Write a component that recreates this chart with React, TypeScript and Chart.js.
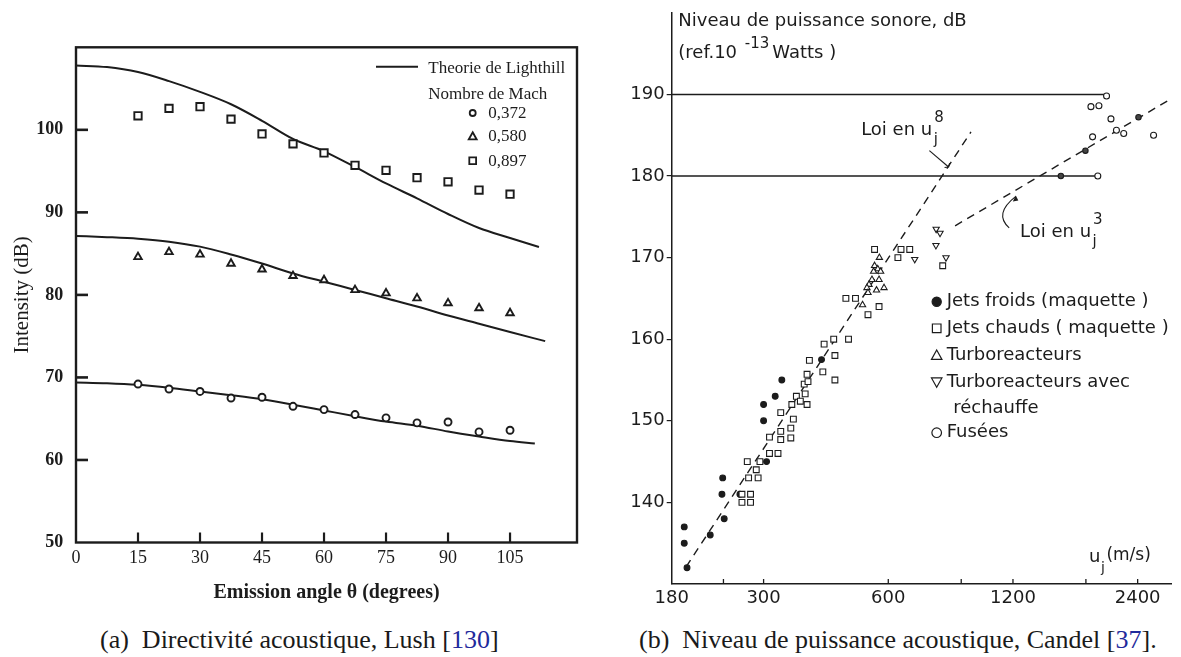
import React, { useEffect, useRef } from 'react';
import { Chart, registerables } from 'chart.js';

Chart.register(...registerables);

const INK = '#1c1c1c';
const SERIF = '"Liberation Serif", "Times New Roman", serif';
const SANS = '"DejaVu Sans", "Liberation Sans", sans-serif';

// ---------------- Panel (a): Lush directivity ----------------
const ANGLES = [15, 22.5, 30, 37.5, 45, 52.5, 60, 67.5, 75, 82.5, 90, 97.5, 105];
const MACH_0372 = [69.2, 68.6, 68.3, 67.5, 67.6, 66.5, 66.1, 65.5, 65.1, 64.5, 64.6, 63.4, 63.6];
const MACH_0580 = [84.6, 85.2, 84.9, 83.8, 83.1, 82.3, 81.8, 80.6, 80.2, 79.6, 79.0, 78.4, 77.8];
const MACH_0897 = [101.7, 102.6, 102.8, 101.3, 99.5, 98.3, 97.2, 95.7, 95.1, 94.2, 93.7, 92.7, 92.2];

const THEORY_ANGLES = [0, 7.5, 15, 22.5, 30, 37.5, 45, 52.5, 60, 67.5, 75, 82.5, 90, 97.5, 105];
const THEORY_END_ANGLES = [111, 113.5, 112];
const THEORY_0372 = [69.4, 69.3, 69.1, 68.75, 68.3, 67.85, 67.35, 66.7, 66.0, 65.3, 64.65, 64.15, 63.45, 62.85, 62.3, 62.0];
const THEORY_0580 = [87.15, 87.0, 86.8, 86.45, 85.85, 84.9, 83.8, 82.6, 81.6, 80.6, 79.6, 78.6, 77.5, 76.5, 75.5, 74.4];
const THEORY_0897 = [107.8, 107.6, 107.0, 105.9, 104.6, 103.1, 101.1, 98.9, 97.4, 95.5, 93.5, 91.7, 89.8, 88.1, 86.9, 85.8];

const X_TICKS_A = [0, 15, 30, 45, 60, 75, 90, 105];
const Y_TICKS_A = [50, 60, 70, 80, 90, 100];
const LEGEND_A_LINE = 'Theorie de Lighthill';
const LEGEND_A_TITLE = 'Nombre de Mach';
const LEGEND_A = ['0,372', '0,580', '0,897'];

// ---------------- Panel (b): Candel acoustic power ----------------
const JETS_FROIDS = [[193, 137], [193, 135], [196, 132], [223, 136], [239, 143], [238, 141], [241, 138], [263, 141], [305, 145], [300, 150], [300, 152], [320, 153], [332, 155], [414, 157.5]];
const JETS_CHAUDS = [[266, 140], [279, 140], [266, 141], [279, 141], [276, 143], [291, 143], [288, 144], [274, 145], [294, 145], [310, 146], [325, 146], [310, 148], [330, 147.7], [330, 148.7], [349, 147.9], [349, 149.1], [354, 150.2], [330, 151], [351, 152], [360, 153], [368, 152.4], [378, 153.3], [382, 152], [376, 154.5], [382, 155.7], [384, 154.8], [387, 157.4], [417, 156], [420, 159.4], [446, 158], [446, 155], [443, 160], [481, 160], [474, 165], [500, 165], [536, 163], [570, 164], [556, 171], [644, 171], [676, 171], [633, 170], [812, 169]];
const TURBO = [[571, 170], [556, 169], [566, 168.6], [553, 168.3], [575, 168.3], [548, 167.3], [570, 167.3], [539, 166.7], [562, 166], [586, 166.3], [533, 166.3], [536, 165.7], [520, 164.2]];
const TURBO_RECHAUFFE = [[783, 173.5], [800, 173], [782, 171.5], [827, 170], [695, 169.8]];
const FUSEES = [[2019, 189.8], [1851, 188.5], [1935, 188.6], [2069, 187], [1868, 184.8], [2133, 185.6], [2221, 185.2], [2622, 185], [1923, 180]];
const FUSEES_POINTEES = [[1566, 180], [1795, 183.1], [2411, 187.2]];
const LINE_190 = [[180, 190], [2019, 190]];
const LINE_180 = [[180, 180], [1923, 180]];
const LOI_U8 = [[195, 132.1], [950, 185.4]];
const LOI_U3 = [[870, 173.9], [2900, 189.5]];

const X_MIN_B = 180;
const X_MAX_B = 2900;
const X_TICKS_B = [180, 240, 300, 600, 900, 1200, 1800, 2400];
const X_LABELS_B = [180, 300, 600, 1200, 2400];
const Y_TICKS_B = [140, 150, 160, 170, 180, 190];
const TITLE_B = 'Niveau de puissance sonore, dB';
const LEGEND_B = ['Jets froids (maquette )', 'Jets chauds ( maquette )', 'Turboreacteurs', 'Turboreacteurs avec', 'réchauffe', 'Fusées'];
// annotation anchors (data coordinates)
const LOI8_LABEL = [516, 185.6];
const LOI8_POINTER = [[754, 183.1], [839, 181.1]];
const LOI3_LABEL = [1248, 173.1];
const LOI3_POINTER = [[1175, 173.65], [1125, 175.6], [1219, 177.5]];
const UJ_LABEL = [1831, 133.3];

const toXY = (pairs: number[][]) => pairs.map(([x, y]) => ({ x, y }));
const zipXY = (xs: number[], ys: number[]) => xs.map((x, i) => ({ x, y: ys[i] }));
const theory = (ys: number[], end: number) => [...THEORY_ANGLES, end].map((x, i) => ({ x, y: ys[i] }));

function strokeLine(ctx: CanvasRenderingContext2D, x1: number, y1: number, x2: number, y2: number) {
  ctx.beginPath();
  ctx.moveTo(x1, y1);
  ctx.lineTo(x2, y2);
  ctx.stroke();
}

function symbol(ctx: CanvasRenderingContext2D, kind: string, x: number, y: number, s: number, fill = '#fff') {
  ctx.beginPath();
  if (kind === 'circle') {
    ctx.arc(x, y, s, 0, Math.PI * 2);
  } else if (kind === 'rect') {
    ctx.rect(x - s, y - s, 2 * s, 2 * s);
  } else if (kind === 'tri') {
    ctx.moveTo(x, y - s);
    ctx.lineTo(x + s * 0.95, y + s * 0.7);
    ctx.lineTo(x - s * 0.95, y + s * 0.7);
    ctx.closePath();
  } else if (kind === 'trid') {
    ctx.moveTo(x, y + s);
    ctx.lineTo(x + s * 0.95, y - s * 0.7);
    ctx.lineTo(x - s * 0.95, y - s * 0.7);
    ctx.closePath();
  }
  ctx.fillStyle = fill;
  ctx.fill();
  ctx.stroke();
}

const leftDecor = {
  id: 'leftDecor',
  afterDraw(chart: any) {
    const { ctx, chartArea: ca, scales } = chart;
    const xs = scales.x;
    const ys = scales.y;
    ctx.save();
    ctx.strokeStyle = INK;
    ctx.lineWidth = 2.4;
    ctx.strokeRect(ca.left, ca.top, ca.right - ca.left, ca.bottom - ca.top);
    ctx.lineWidth = 2.6;
    Y_TICKS_A.filter((v) => v > 50).forEach((v) => {
      const py = ys.getPixelForValue(v);
      strokeLine(ctx, ca.left, py, ca.left + 12, py);
    });
    ctx.lineWidth = 2.2;
    X_TICKS_A.filter((v) => v > 0).forEach((v) => {
      const px = xs.getPixelForValue(v);
      strokeLine(ctx, px, ca.bottom, px, ca.bottom - 10);
    });
    // legend
    ctx.lineWidth = 2;
    strokeLine(ctx, ca.right - 201, ca.top + 19.4, ca.right - 159, ca.top + 19.4);
    ctx.fillStyle = INK;
    ctx.font = `17px ${SERIF}`;
    ctx.textBaseline = 'middle';
    ctx.textAlign = 'left';
    ctx.fillText(LEGEND_A_LINE, ca.right - 148.7, ca.top + 21);
    ctx.fillText(LEGEND_A_TITLE, ca.right - 148.7, ca.top + 47.7);
    const kinds = ['circle', 'tri', 'rect'];
    const sizes = [3, 4.2, 3.4];
    const rows = [65.7, 89.2, 113.4];
    kinds.forEach((k, i) => {
      ctx.lineWidth = 1.8;
      ctx.strokeStyle = INK;
      symbol(ctx, k, ca.right - 104.3, ca.top + rows[i], sizes[i]);
      ctx.fillStyle = INK;
      ctx.fillText(LEGEND_A[i], ca.right - 88.7, ca.top + rows[i] + 0.5);
    });
    ctx.restore();
  },
};

function drawLaw(ctx: CanvasRenderingContext2D, px: number, py: number, exp: string) {
  ctx.font = `18px ${SANS}`;
  ctx.textAlign = 'left';
  ctx.textBaseline = 'middle';
  ctx.fillText('Loi en u', px, py);
  const w = ctx.measureText('Loi en u').width;
  ctx.font = `15px ${SANS}`;
  ctx.fillText(exp, px + w + 2, py - 12);
  ctx.fillText('j', px + w + 1.5, py + 10);
}

const rightDecor = {
  id: 'rightDecor',
  afterDraw(chart: any) {
    const { ctx, chartArea: ca, scales } = chart;
    const xs = scales.x;
    const ys = scales.y;
    const P = (p: number[]) => [xs.getPixelForValue(p[0]), ys.getPixelForValue(p[1])];
    ctx.save();
    ctx.strokeStyle = INK;
    ctx.fillStyle = INK;
    ctx.lineWidth = 1.3;
    X_TICKS_B.filter((v) => v > X_MIN_B).forEach((v) => {
      const px = xs.getPixelForValue(v);
      strokeLine(ctx, px, ca.bottom, px, ca.bottom - 5);
    });
    // title
    ctx.font = `18px ${SANS}`;
    ctx.textBaseline = 'middle';
    ctx.textAlign = 'left';
    ctx.fillText(TITLE_B, ca.left + 6.6, 21.7);
    let tx = ca.left + 6.6;
    ctx.fillText('(ref.10 ', tx, 53.3);
    tx += ctx.measureText('(ref.10 ').width + 2;
    ctx.font = `15px ${SANS}`;
    ctx.fillText('-13', tx, 44);
    tx += ctx.measureText('-13').width + 3;
    ctx.font = `18px ${SANS}`;
    ctx.fillText('Watts )', tx, 53.3);

    // law labels
    const l8 = P(LOI8_LABEL);
    drawLaw(ctx, l8[0], l8[1], '8');
    const l3 = P(LOI3_LABEL);
    drawLaw(ctx, l3[0], l3[1], '3');
    // pointers
    ctx.lineWidth = 1.1;
    const a = P(LOI8_POINTER[0]);
    const b = P(LOI8_POINTER[1]);
    strokeLine(ctx, a[0], a[1], b[0], b[1]);
    strokeLine(ctx, b[0] - 4, b[1] + 0.5, b[0], b[1]);
    strokeLine(ctx, b[0], b[1], b[0] + 1, b[1] - 4);
    const c0 = P(LOI3_POINTER[0]);
    const c1 = P(LOI3_POINTER[1]);
    const c2 = P(LOI3_POINTER[2]);
    ctx.beginPath();
    ctx.moveTo(c0[0], c0[1]);
    ctx.quadraticCurveTo(c1[0] - 8, c1[1] + 2, c2[0], c2[1]);
    ctx.stroke();
    ctx.beginPath();
    ctx.moveTo(c2[0], c2[1] - 1);
    ctx.lineTo(c2[0] - 3, c2[1] + 5);
    ctx.lineTo(c2[0] + 2.5, c2[1] + 4);
    ctx.closePath();
    ctx.fill();

    // u_j (m/s)
    const uj = P(UJ_LABEL);
    ctx.font = `18px ${SANS}`;
    ctx.fillText('u', uj[0], uj[1]);
    const wu = ctx.measureText('u').width;
    ctx.font = `14px ${SANS}`;
    ctx.fillText('j', uj[0] + wu + 0.5, uj[1] + 11);
    ctx.font = `17px ${SANS}`;
    ctx.fillText('(m/s)', uj[0] + wu + 6, uj[1] - 1);

    // legend
    const lx = ca.left + 265;
    const rows = [301.7, 328.3, 355, 382.3, 408, 432.7];
    const kinds = ['dot', 'rect', 'tri', 'trid', '', 'circle'];
    ctx.font = `18px ${SANS}`;
    rows.forEach((ry, i) => {
      ctx.lineWidth = 1.2;
      ctx.strokeStyle = INK;
      const k = kinds[i];
      if (k === 'dot') symbol(ctx, 'circle', lx, ry, 4.6, INK);
      else if (k === 'rect') symbol(ctx, 'rect', lx, ry, 4.3);
      else if (k === 'tri') symbol(ctx, 'tri', lx, ry + 0.5, 5.5);
      else if (k === 'trid') symbol(ctx, 'trid', lx, ry - 0.5, 5.5);
      else if (k === 'circle') symbol(ctx, 'circle', lx, ry, 4.8);
      ctx.fillStyle = INK;
      ctx.fillText(LEGEND_B[i], lx + (k === '' ? 16.5 : 10), ry);
    });
    ctx.restore();
  },
};

function PanelA() {
  const ref = useRef<HTMLCanvasElement>(null);
  useEffect(() => {
    if (!ref.current) return;
    const lineDs = (ys: number[], end: number) => ({
      data: theory(ys, end),
      showLine: true,
      borderColor: INK,
      borderWidth: 2,
      pointRadius: 0,
      cubicInterpolationMode: 'monotone',
      order: 2,
    });
    const markDs = (ys: number[], style: string, r: number) => ({
      data: zipXY(ANGLES, ys),
      showLine: false,
      pointStyle: style,
      pointRadius: r,
      pointBorderWidth: 1.9,
      pointBorderColor: INK,
      pointBackgroundColor: '#fff',
      order: 1,
    });
    const chart = new Chart(ref.current, {
      type: 'scatter',
      data: {
        datasets: [
          lineDs(THEORY_0372, THEORY_END_ANGLES[0]),
          lineDs(THEORY_0580, THEORY_END_ANGLES[1]),
          lineDs(THEORY_0897, THEORY_END_ANGLES[2]),
          markDs(MACH_0372, 'circle', 3.5),
          markDs(MACH_0580, 'triangle', 4.3),
          markDs(MACH_0897, 'rect', 5.2),
        ] as any,
      },
      options: {
        animation: false,
        responsive: false,
        events: [],
        layout: { padding: { left: 0, right: 23, top: 47.3, bottom: 0 } },
        plugins: { legend: { display: false }, tooltip: { enabled: false } },
        scales: {
          x: {
            type: 'linear',
            min: 0,
            max: 121.2,
            afterBuildTicks: (s: any) => { s.ticks = X_TICKS_A.map((v) => ({ value: v })); },
            afterFit: (s: any) => { s.height = 72.5; },
            grid: { display: false, drawTicks: false },
            border: { display: false },
            ticks: { color: INK, padding: 4.7, font: { family: SERIF, size: 18 } },
            title: {
              display: true,
              text: 'Emission angle θ (degrees)',
              color: INK,
              font: { family: SERIF, size: 20, weight: 'bold' },
              padding: { top: 0, bottom: 10 },
            },
          },
          y: {
            type: 'linear',
            min: 50,
            max: 110,
            afterBuildTicks: (s: any) => { s.ticks = Y_TICKS_A.map((v) => ({ value: v })); },
            afterFit: (s: any) => { s.width = 76; },
            grid: { display: false, drawTicks: false },
            border: { display: false },
            ticks: { color: INK, padding: 12.7, font: { family: SERIF, size: 18, weight: 'bold' } },
            title: {
              display: true,
              text: 'Intensity (dB)',
              color: INK,
              font: { family: SERIF, size: 21 },
              padding: { top: 9.4, bottom: 0 },
            },
          },
        },
      } as any,
      plugins: [leftDecor],
    });
    return () => chart.destroy();
  }, []);
  return <canvas ref={ref} width={600} height={615} style={{ position: 'absolute', left: 0, top: 0, width: 600, height: 615 }} />;
}

function PanelB() {
  const ref = useRef<HTMLCanvasElement>(null);
  useEffect(() => {
    if (!ref.current) return;
    const solid = (pairs: number[][]) => ({
      data: toXY(pairs), showLine: true, borderColor: INK, borderWidth: 1.5, pointRadius: 0, order: 3,
    });
    const dashed = (pairs: number[][]) => ({
      data: toXY(pairs), showLine: true, borderColor: INK, borderWidth: 1.4, borderDash: [8, 6], pointRadius: 0, order: 3,
    });
    const marks = (pairs: number[][], style: string, r: number, rot = 0, fill = '#fff') => ({
      data: toXY(pairs),
      showLine: false,
      pointStyle: style,
      pointRotation: rot,
      pointRadius: r,
      pointBorderWidth: 1.1,
      pointBorderColor: INK,
      pointBackgroundColor: fill,
      order: 1,
    });
    const chart = new Chart(ref.current, {
      type: 'scatter',
      data: {
        datasets: [
          solid(LINE_190),
          solid(LINE_180),
          dashed(LOI_U8),
          dashed(LOI_U3),
          marks(JETS_CHAUDS, 'rect', 4.1),
          marks(TURBO, 'triangle', 3.6),
          marks(TURBO_RECHAUFFE, 'triangle', 3.6, 180),
          marks(FUSEES, 'circle', 3),
          marks(FUSEES_POINTEES, 'circle', 2.7, 0, '#444'),
          marks(JETS_FROIDS, 'circle', 2.9, 0, INK),
        ] as any,
      },
      options: {
        animation: false,
        responsive: false,
        events: [],
        layout: { padding: { left: 0, right: 9.3, top: 6, bottom: 0 } },
        plugins: { legend: { display: false }, tooltip: { enabled: false } },
        scales: {
          x: {
            type: 'logarithmic',
            min: X_MIN_B,
            max: X_MAX_B,
            afterBuildTicks: (s: any) => { s.ticks = X_TICKS_B.map((v) => ({ value: v })); },
            afterFit: (s: any) => { s.height = 31; },
            grid: { display: false, drawTicks: false },
            border: { display: true, color: INK, width: 1.5 },
            ticks: {
              color: INK,
              padding: 3.2,
              autoSkip: false,
              maxRotation: 0,
              font: { family: SANS, size: 18 },
              callback: (v: any) => (X_LABELS_B.includes(Number(v)) ? String(v) : ''),
            },
          },
          y: {
            type: 'linear',
            min: 130,
            max: 200,
            afterBuildTicks: (s: any) => { s.ticks = Y_TICKS_B.map((v) => ({ value: v })); },
            afterFit: (s: any) => { s.width = 71.7; },
            grid: { display: true, drawOnChartArea: false, drawTicks: true, tickLength: 5, color: INK, lineWidth: 1.2 },
            border: { display: true, color: INK, width: 1.5 },
            ticks: { color: INK, padding: 2, font: { family: SANS, size: 18 } },
          },
        },
      } as any,
      plugins: [rightDecor],
    });
    return () => chart.destroy();
  }, []);
  return <canvas ref={ref} width={581} height={615} style={{ position: 'absolute', left: 600, top: 0, width: 581, height: 615 }} />;
}

const captionStyle: React.CSSProperties = {
  position: 'absolute',
  top: 624,
  fontFamily: SERIF,
  fontSize: 26,
  lineHeight: '32px',
  color: '#1a1a1a',
  whiteSpace: 'nowrap',
};
const REF_BLUE = '#1f2a9c';

export default function App() {
  return (
    <div style={{ position: 'fixed', left: 0, top: 0, width: 1181, height: 657, background: '#fff', overflow: 'hidden' }}>
      <PanelA />
      <PanelB />
      <div style={{ ...captionStyle, left: 100 }}>
        (a)&nbsp; Directivité acoustique, Lush [<span style={{ color: REF_BLUE }}>130</span>]
      </div>
      <div style={{ ...captionStyle, left: 639 }}>
        (b)&nbsp; Niveau de puissance acoustique, Candel [<span style={{ color: REF_BLUE }}>37</span>].
      </div>
    </div>
  );
}
